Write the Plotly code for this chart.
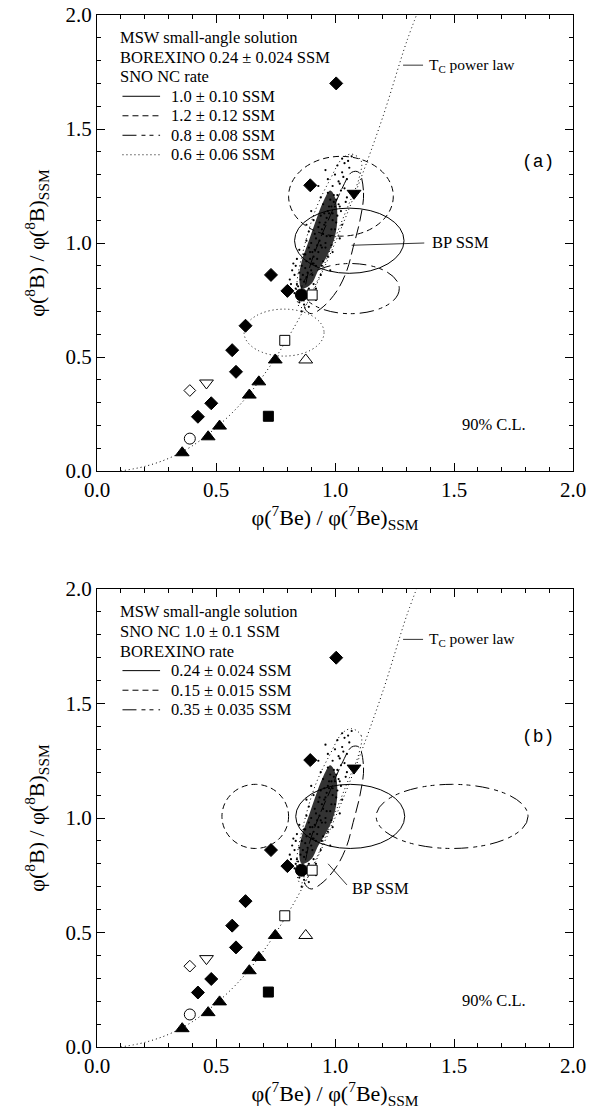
import plotly.graph_objects as go

W, H = 598, 1110
SERIF = "Liberation Serif"

# ---------------- data ----------------
diamond_x = [1.005, 0.896, 0.731, 0.80, 0.624, 0.568, 0.584, 0.48, 0.424]
diamond_y = [1.70, 1.253, 0.86, 0.79, 0.637, 0.53, 0.435, 0.297, 0.238]
triup_x = [0.358, 0.467, 0.515, 0.64, 0.68, 0.749]
triup_y = [0.08, 0.15, 0.197, 0.333, 0.391, 0.487]
fsquare_x = [0.72]
fsquare_y = [0.24]
fcircle_x = [0.859]
fcircle_y = [0.772]
ftridown_x = [1.08]
ftridown_y = [1.218]
osquare_x = [0.904, 0.789]
osquare_y = [0.772, 0.573]
otriup_x = [0.877]
otriup_y = [0.487]
otridown_x = [0.46]
otridown_y = [0.386]
odiamond_x = [0.39]
odiamond_y = [0.353]
ocircle_x = [0.39]
ocircle_y = [0.142]

# T_c power-law curve
curve_x = [0.10, 0.20, 0.30, 0.40, 0.50, 0.60, 0.70, 0.80, 0.90, 1.00, 1.10, 1.20, 1.30, 1.35]
curve_y = [0.0, 0.02, 0.055, 0.11, 0.19, 0.29, 0.42, 0.58, 0.77, 1.0, 1.26, 1.55, 1.88, 2.02]

# Monte Carlo cloud: dense core outline and scattered points
core_x = [0.86, 0.90, 0.93, 0.97, 1.00, 1.01, 1.00, 0.98, 0.95, 0.92, 0.89, 0.86, 0.85, 0.86]
core_y = [0.80, 0.82, 0.88, 0.95, 1.03, 1.12, 1.20, 1.23, 1.18, 1.10, 1.01, 0.92, 0.85, 0.80]
cloud_x = [0.85, 0.87, 0.88, 0.86, 0.89, 0.84, 0.87, 0.90, 0.91, 0.88, 0.85, 0.92, 0.83, 0.89,
           0.86, 0.88, 0.90, 0.92, 0.87, 0.91, 0.93, 0.89, 0.95, 0.84, 0.96, 0.90, 0.85, 0.94,
           0.97, 0.82, 0.99, 0.92, 0.95, 0.98, 0.93, 0.96, 0.99, 0.91, 1.00, 0.94, 0.97, 1.01,
           0.89, 1.02, 0.90, 0.96, 1.03, 0.88, 0.95, 0.98, 1.00, 0.97, 1.01, 0.94, 1.02, 0.99,
           1.04, 0.93, 1.00, 1.03, 1.05, 0.97, 1.04, 1.01, 1.06, 0.96, 1.07, 1.03, 0.83, 0.86,
           0.81, 0.92, 0.98, 1.02, 0.94, 0.88, 1.05, 0.99, 0.91, 0.86,
           0.845, 0.865, 0.875, 0.895, 0.905, 0.915, 0.925, 0.935, 0.945, 0.955, 0.965, 0.975,
           0.985, 0.995, 1.005, 1.015, 1.025, 0.835, 0.855, 0.885, 0.905, 0.925, 0.945, 0.965,
           0.985, 1.005, 1.025, 1.045, 0.875, 0.895, 0.915, 0.935, 0.955, 0.975, 0.995, 1.015,
           0.865, 0.885, 0.825, 0.905, 0.945, 0.985, 1.035, 1.055, 0.815, 0.835]
cloud_y = [0.74, 0.73, 0.76, 0.79, 0.80, 0.82, 0.83, 0.78, 0.82, 0.85, 0.87, 0.75, 0.78, 0.72,
           0.90, 0.92, 0.88, 0.90, 0.95, 0.94, 0.96, 0.98, 0.92, 0.93, 0.98, 1.00, 0.97, 0.86,
           0.94, 0.88, 0.96, 1.02, 1.04, 1.03, 1.07, 1.09, 1.10, 1.10, 1.06, 1.12, 1.14, 1.12,
           1.05, 1.02, 1.14, 1.00, 1.08, 1.08, 1.17, 1.19, 1.16, 1.22, 1.21, 1.20, 1.26, 1.25,
           1.24, 1.25, 1.30, 1.31, 1.28, 1.28, 1.35, 1.34, 1.33, 1.32, 1.38, 1.37, 0.86, 0.77,
           0.84, 0.80, 0.88, 1.16, 0.99, 1.01, 1.20, 1.13, 0.91, 0.70,
           0.81, 0.86, 0.89, 0.93, 0.96, 0.97, 0.99, 1.01, 1.06, 1.08, 1.11, 1.13, 1.16, 1.18,
           1.19, 1.17, 1.23, 0.80, 0.84, 0.87, 0.91, 0.93, 0.98, 1.03, 1.06, 1.09, 1.14, 1.18,
           0.95, 0.96, 1.04, 1.09, 1.13, 1.16, 1.21, 1.27, 0.75, 0.79, 0.91, 0.86, 0.90, 0.99,
           1.29, 1.36, 0.82, 0.90]

# tilted SSM regions (long-dashed and dotted outlines)
ssm_dash_x = [1.10, 1.12, 1.105, 1.076, 1.05, 1.008, 0.95, 0.90, 0.875, 0.87, 0.89, 0.93, 0.98, 1.03, 1.07, 1.10]
ssm_dash_y = [1.31, 1.22, 1.10, 0.98, 0.88, 0.79, 0.72, 0.69, 0.71, 0.76, 0.88, 1.00, 1.12, 1.24, 1.31, 1.31]
ssm_dot_x = [1.07, 1.11, 1.10, 1.05, 0.98, 0.92, 0.87, 0.85, 0.84, 0.87, 0.92, 0.98, 1.03, 1.07]
ssm_dot_y = [1.39, 1.36, 1.28, 1.15, 0.97, 0.82, 0.72, 0.72, 0.82, 0.98, 1.15, 1.28, 1.37, 1.39]

# panel (a): SNO NC rate ellipses
a_labels = ["1.0 ± 0.10 SSM", "1.2 ± 0.12 SSM", "0.8 ± 0.08 SSM", "0.6 ± 0.06 SSM"]
a_cx = [1.06, 1.025, 1.065, 0.786]
a_cy = [1.01, 1.205, 0.80, 0.607]
a_hw = [0.23, 0.22, 0.205, 0.168]
a_hh = [0.143, 0.175, 0.11, 0.103]
# panel (b): BOREXINO rate ellipses
b_labels = ["0.24 ± 0.024 SSM", "0.15 ± 0.015 SSM", "0.35 ± 0.035 SSM"]
b_cx = [1.064, 0.665, 1.492]
b_cy = [1.007, 1.007, 1.007]
b_hw = [0.229, 0.14, 0.319]
b_hh = [0.14, 0.14, 0.14]

a_head = ["MSW small-angle solution", "BOREXINO 0.24 ± 0.024 SSM", "SNO NC rate"]
b_head = ["MSW small-angle solution", "SNO NC 1.0 ± 0.1 SSM", "BOREXINO rate"]

# ---------------- styles ----------------
DASHES = ["solid", "6px,4px", "14px,5px,4px,4px,4px,5px", "1px,3px"]
B_DASHES = ["solid", "6px,4px", "14px,5px,4px,4px,4px,5px"]

fig = go.Figure()

def dom_y(top, bottom):
    return [1 - bottom / H, 1 - top / H]

xdom = [97 / W, 573 / W]
panels = [
    dict(sx="x", sy="y", ax="xaxis", ay="yaxis", ydom=dom_y(15, 471), tag="(a)",
         head=a_head, labels=a_labels, cx=a_cx, cy=a_cy, hw=a_hw, hh=a_hh, dashes=DASHES,
         bp=dict(tx=1.40, ty=1.0, lx0=1.07, ly0=0.99, lx1=1.375, ly1=1.0)),
    dict(sx="x2", sy="y2", ax="xaxis2", ay="yaxis2", ydom=dom_y(589, 1047), tag="(b)",
         head=b_head, labels=b_labels, cx=b_cx, cy=b_cy, hw=b_hw, hh=b_hh, dashes=B_DASHES,
         bp=dict(tx=1.065, ty=0.692, lx0=0.971, ly0=0.80, lx1=1.05, ly1=0.708)),
]

line_ax = dict(range=[0, 2], showgrid=False, zeroline=False, showline=True, linecolor="black",
               linewidth=1, mirror="ticks", ticks="inside", ticklen=8, tickwidth=1, tickcolor="black",
               dtick=0.5, tick0=0, tickformat=".1f", automargin=False,
               minor=dict(dtick=0.1, ticks="inside", ticklen=4, tickcolor="black", tickwidth=1),
               tickfont=dict(family=SERIF, size=21, color="black"))

shapes = []
annotations = []
TXT = 16.5

for p in panels:
    sx, sy = p["sx"], p["sy"]
    common = dict(xaxis=sx, yaxis=sy, showlegend=False, hoverinfo="skip")
    # power-law curve
    fig.add_trace(go.Scatter(x=curve_x, y=curve_y, mode="lines", line_shape="spline",
                             line=dict(color="black", width=1, dash="1px,3px"), **common))
    # cloud
    fig.add_trace(go.Scatter(x=core_x, y=core_y, mode="lines", fill="toself", line_shape="spline",
                             fillcolor="rgba(0,0,0,0.8)", line=dict(color="rgba(0,0,0,0)", width=0), **common))
    fig.add_trace(go.Scatter(x=cloud_x, y=cloud_y, mode="markers",
                             marker=dict(size=2.2, color="black"), **common))
    # tilted SSM outlines
    fig.add_trace(go.Scatter(x=ssm_dot_x, y=ssm_dot_y, mode="lines", line_shape="spline",
                             line=dict(color="black", width=1, dash="1px,3px"), **common))
    fig.add_trace(go.Scatter(x=ssm_dash_x, y=ssm_dash_y, mode="lines", line_shape="spline",
                             line=dict(color="black", width=1, dash="12px,5px"), **common))
    # markers
    def mk(xs, ys, sym, size, filled=True):
        fig.add_trace(go.Scatter(x=xs, y=ys, mode="markers",
                                 marker=dict(symbol=sym, size=size,
                                             color="black" if filled else "white",
                                             line=dict(color="black", width=1)), **common))
    mk(diamond_x, diamond_y, "diamond", 10)
    mk(triup_x, triup_y, "triangle-up", 12)
    mk(fsquare_x, fsquare_y, "square", 10)
    mk(fcircle_x, fcircle_y, "circle", 12)
    mk(ftridown_x, ftridown_y, "triangle-down", 12)
    mk(osquare_x, osquare_y, "square", 10, False)
    mk(otriup_x, otriup_y, "triangle-up", 12, False)
    mk(otridown_x, otridown_y, "triangle-down", 12, False)
    mk(odiamond_x, odiamond_y, "diamond", 9, False)
    mk(ocircle_x, ocircle_y, "circle", 11, False)

    # ellipses
    for cx, cy, a, b, d in zip(p["cx"], p["cy"], p["hw"], p["hh"], p["dashes"]):
        shapes.append(dict(type="circle", xref=sx, yref=sy, x0=cx - a, x1=cx + a,
                           y0=cy - b, y1=cy + b, line=dict(color="black", width=1, dash=d)))

    # legend text block
    ytop = 1.90
    step = 0.0855
    lines = p["head"] + p["labels"]
    for i, t in enumerate(lines):
        yy = ytop - i * step
        xx = 0.088 if i < 3 else 0.302
        annotations.append(dict(x=xx, y=yy, xref=sx, yref=sy, text=t, showarrow=False,
                                xanchor="left", yanchor="middle",
                                font=dict(family=SERIF, size=TXT, color="black")))
        if i >= 3:
            d = p["dashes"][i - 3]
            shapes.append(dict(type="line", xref=sx, yref=sy, x0=0.107, x1=0.265, y0=yy, y1=yy,
                               line=dict(color="black", width=1, dash=d)))

    # T_c power law label
    shapes.append(dict(type="line", xref=sx, yref=sy, x0=1.286, x1=1.37, y0=1.78, y1=1.78,
                       line=dict(color="black", width=0.8)))
    annotations.append(dict(x=1.385, y=1.78, xref=sx, yref=sy, text="T<sub>C</sub> power law",
                            showarrow=False, xanchor="left", yanchor="middle",
                            font=dict(family=SERIF, size=15.5, color="black")))
    # BP SSM label
    bp = p["bp"]
    shapes.append(dict(type="line", xref=sx, yref=sy, x0=bp["lx0"], x1=bp["lx1"], y0=bp["ly0"], y1=bp["ly1"],
                       line=dict(color="black", width=0.8)))
    annotations.append(dict(x=bp["tx"], y=bp["ty"], xref=sx, yref=sy, text="BP SSM",
                            showarrow=False, xanchor="left", yanchor="middle",
                            font=dict(family=SERIF, size=TXT, color="black")))
    # panel tag and CL
    annotations.append(dict(x=1.855, y=1.355, xref=sx, yref=sy, text=p["tag"], showarrow=False,
                            xanchor="center", yanchor="middle",
                            font=dict(family="Liberation Mono", size=18, color="black")))
    annotations.append(dict(x=1.67, y=0.205, xref=sx, yref=sy, text="90% C.L.", showarrow=False,
                            xanchor="center", yanchor="middle",
                            font=dict(family=SERIF, size=TXT, color="black")))

    xa = dict(line_ax, domain=xdom, anchor=sy,
              title=dict(text="φ(<sup>7</sup>Be) / φ(<sup>7</sup>Be)<sub>SSM</sub>",
                         font=dict(family=SERIF, size=22, color="black"), standoff=6))
    ya = dict(line_ax, domain=p["ydom"], anchor=sx,
              title=dict(text="φ(<sup>8</sup>B) / φ(<sup>8</sup>B)<sub>SSM</sub>",
                         font=dict(family=SERIF, size=22, color="black"), standoff=14))
    fig.update_layout(**{p["ax"]: xa, p["ay"]: ya})

fig.update_layout(width=W, height=H, margin=dict(l=0, r=0, t=0, b=0, autoexpand=False),
                  paper_bgcolor="white", plot_bgcolor="white",
                  shapes=shapes, annotations=annotations, showlegend=False)

fig.write_html("out.html")
